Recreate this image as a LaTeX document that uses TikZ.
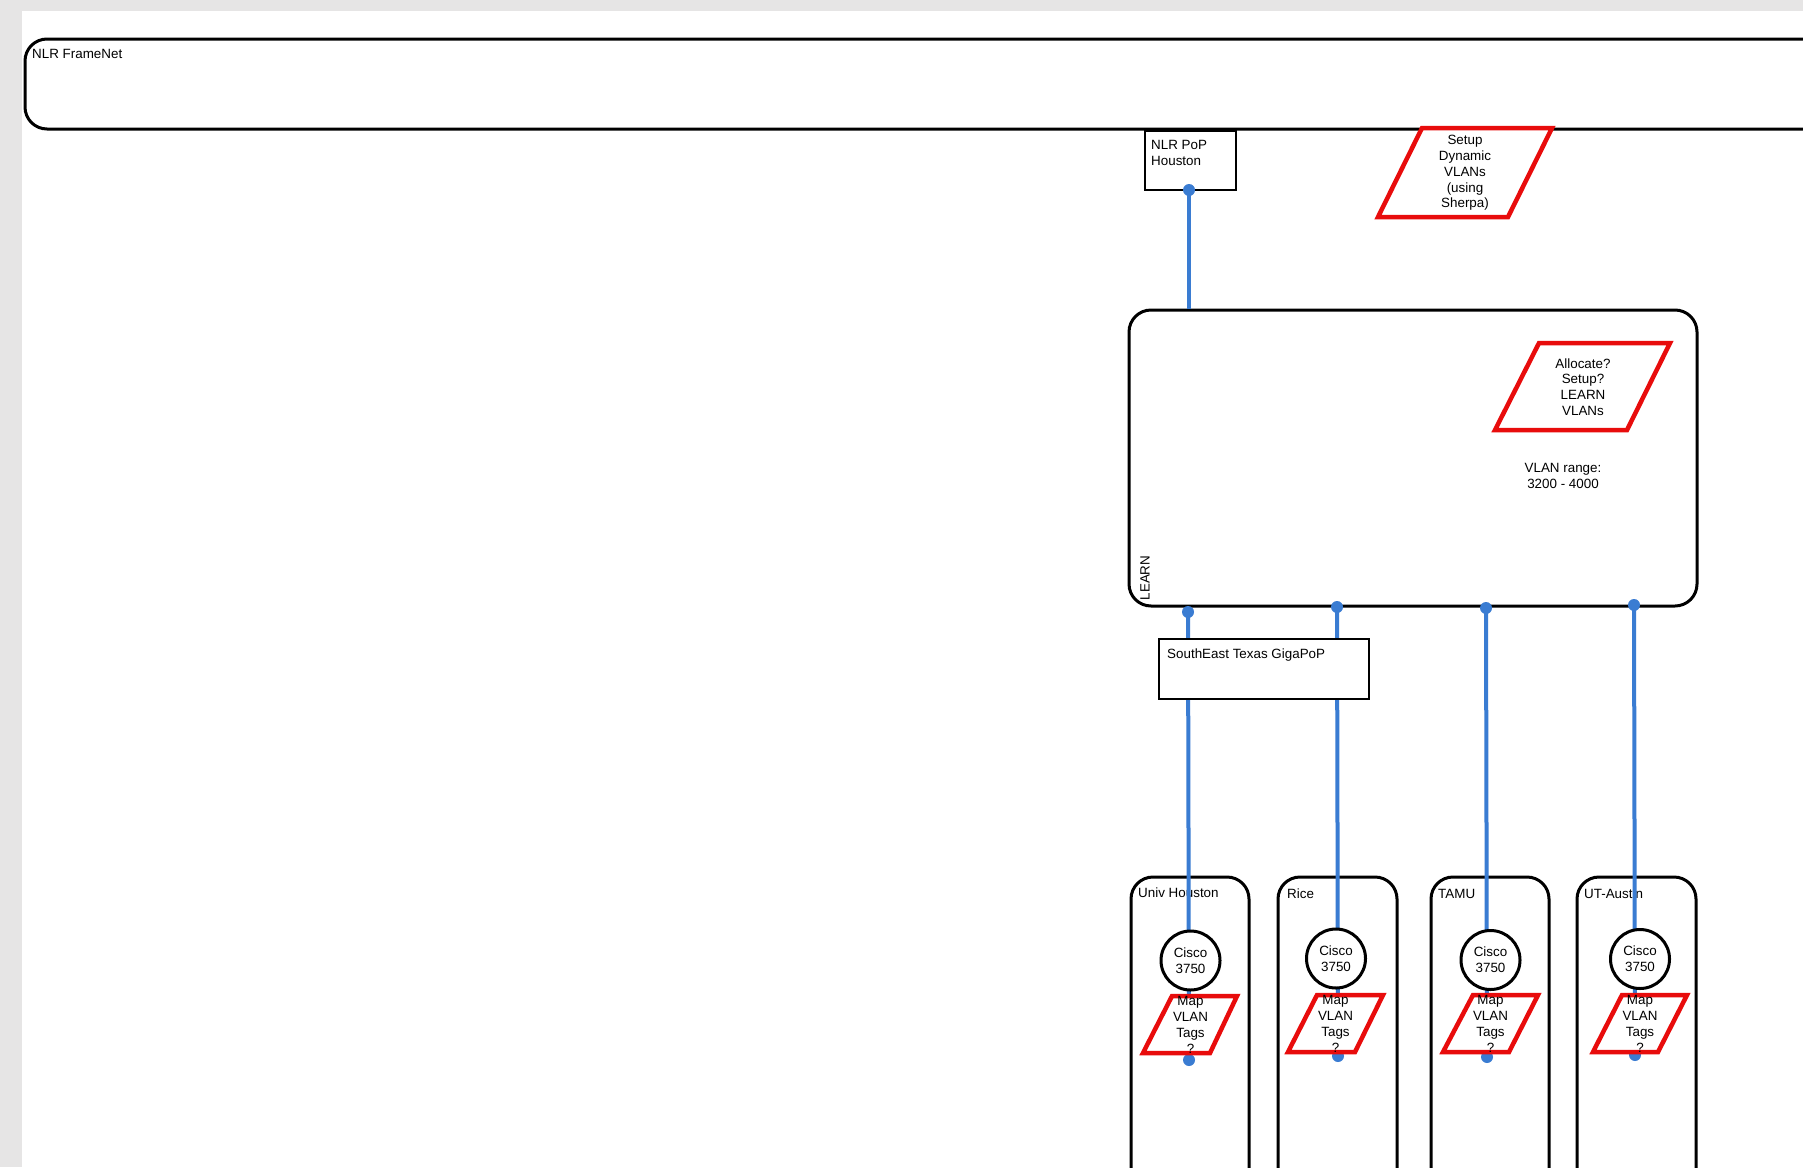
\documentclass[tikz,border=0pt]{standalone}
\usepackage{fontspec}
\setmainfont{Liberation Sans}
\usetikzlibrary{positioning,calc}
\definecolor{lnkblue}{RGB}{58,124,210}
\definecolor{tagred}{RGB}{232,12,12}
\definecolor{bggray}{RGB}{230,229,229}

\begin{document}
\begin{tikzpicture}[x=1pt,y=-1pt,every node/.style={font=\fontsize{13.4}{15.8}\selectfont},
 frame/.style={draw,line width=3pt,rounded corners=22pt},
 b/.style={draw,line width=2.5pt,fill=white},
 tag/.style={draw=tagred,line width=4.5pt,fill=white},
 lnk/.style={draw=lnkblue,line width=4pt},
 dot/.style={circle,fill=lnkblue,inner sep=0pt,minimum size=12pt},
 sw/.style={circle,draw,line width=3pt,fill=white,inner sep=0pt,minimum size=59pt,align=center},
 lbl/.style={inner sep=0pt,align=left}]
\useasboundingbox (0,0) rectangle (1803,1167);
\clip (0,0) rectangle (1803,1167);
\fill[bggray] (0,0) rectangle (1803,1167);
\fill[white] (22,11) rectangle (1803,1167);
\node[frame,minimum width=1805,minimum height=90] (fn) at (927.5,84) {};
\node[lbl,anchor=base west] (fnl) at (32,58) {NLR FrameNet};
\node[b,minimum width=91,minimum height=59] (pop) at (1190.5,160.5) {};
\node[lbl,anchor=north west] (popl) at (1151,140) {NLR PoP\\Houston};
\draw[tag] (1422,128)--(1552,128)--(1508,217)--(1378,217)--cycle;
\node[align=center] (sdv) at (1465,173) {Setup\\Dynamic\\VLANs\\(using\\Sherpa)};
\node[frame,fill=white,minimum width=568,minimum height=296] (learn) at (1413,458) {};
\node[lbl,rotate=90] (learnl) at (1145,578) {LEARN};
\draw[tag] (1539,343)--(1670,343)--(1627,430)--(1495,430)--cycle;
\node[align=center] (alv) at (1583,387) {Allocate?\\Setup?\\LEARN\\VLANs};
\node[align=center] (rng) at (1563,476) {VLAN range:\\3200 - 4000};
\node[frame,minimum width=118,minimum height=330] (uh) at (1190,1042) {};
\node[frame,minimum width=119,minimum height=330] (rice) at (1337.5,1042) {};
\node[frame,minimum width=118,minimum height=330] (tamu) at (1490,1042) {};
\node[frame,minimum width=119,minimum height=330] (uta) at (1636.5,1042) {};
\node[lbl,anchor=west] (uhl) at (1138,893) {Univ Houston};
\node[lbl,anchor=west] (ricel) at (1287,894) {Rice};
\node[lbl,anchor=west] (tamul) at (1438,894) {TAMU};
\node[lbl,anchor=west] (utal) at (1584,894) {UT-Austin};
\node[dot] (pd) at (1189,190) {};
\node[dot] (d1) at (1188,612) {};\node[dot] (d2) at (1337,607) {};
\node[dot] (d3) at (1486,608) {};\node[dot] (d4) at (1634,605) {};
\node[dot] (e1) at (1189,1060) {};\node[dot] (e2) at (1338,1056) {};
\node[dot] (e3) at (1487,1057) {};\node[dot] (e4) at (1635,1055) {};
\draw[lnk] (pd.center)--(pd.center |- learn.north);
\draw[lnk] (d1.center)--(e1.center);\draw[lnk] (d2.center)--(e2.center);
\draw[lnk] (d3.center)--(e3.center);\draw[lnk] (d4.center)--(e4.center);
\node[b,minimum width=210,minimum height=60] (se) at (1264,669) {};
\node[lbl,anchor=north west] (sel) at (1167,649) {SouthEast Texas GigaPoP};
\node[sw] (c1) at (1190.5,960.5) {Cisco\\3750};
\node[sw] (c2) at (1336,958.5) {Cisco\\3750};
\node[sw] (c3) at (1490.5,960) {Cisco\\3750};
\node[sw] (c4) at (1640,959) {Cisco\\3750};
\draw[tag] (1172,996)--(1237,996)--(1210,1053)--(1143,1053)--cycle;
\draw[tag] (1317,995)--(1383,995)--(1355,1052)--(1288,1052)--cycle;
\draw[tag] (1473,995)--(1538,995)--(1509,1052)--(1443,1052)--cycle;
\draw[tag] (1622,995)--(1687,995)--(1658,1052)--(1593,1052)--cycle;
\node[align=center] (m1) at (1190.5,1025) {Map\\VLAN\\Tags\\?};
\node[align=center] (m2) at (1335.5,1024) {Map\\VLAN\\Tags\\?};
\node[align=center] (m3) at (1490.5,1024) {Map\\VLAN\\Tags\\?};
\node[align=center] (m4) at (1640,1024) {Map\\VLAN\\Tags\\?};
\end{tikzpicture}
\end{document}
